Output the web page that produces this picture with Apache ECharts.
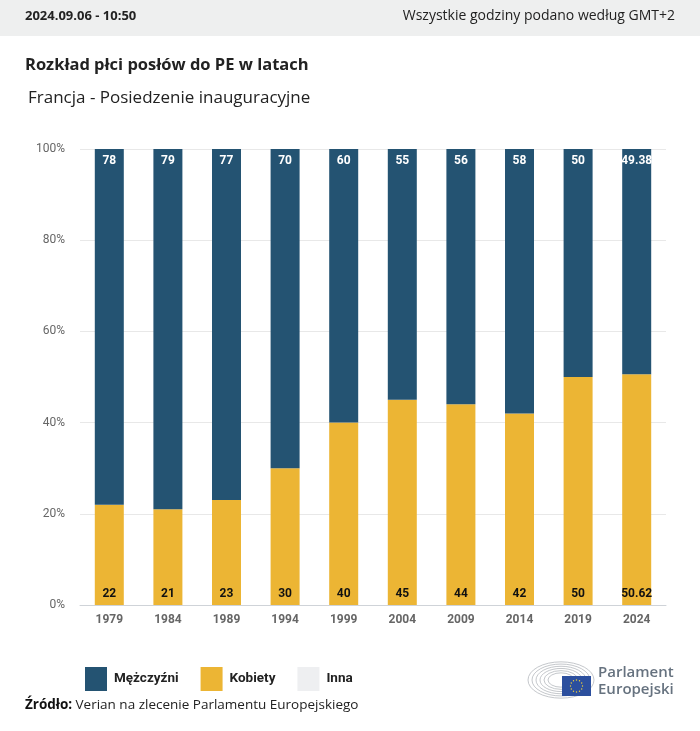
<!DOCTYPE html>
<html><head><meta charset="utf-8">
<script src="https://cdn.jsdelivr.net/npm/echarts@6/dist/echarts.min.js"></script>
<style>html,body{margin:0;padding:0;background:#fff}#c{width:700px;height:731px}</style>
</head><body><div id="c"></div>
<script>
const years = ['1979','1984','1989','1994','1999','2004','2009','2014','2019','2024'];
const men = [78,79,77,70,60,55,56,58,50,49.38];
const women = [22,21,23,30,40,45,44,42,50,50.62];
const other = [0,0,0,0,0,0,0,0,0,0];

const FONT = 'Roboto, "Open Sans", sans-serif';
const TFONT = '"Open Sans", Roboto, sans-serif';
const chart = echarts.init(document.getElementById('c'));

// EP logo hemicycle rings
const rings = [];
for (let i = 0; i < 6; i++) {
  rings.push({type:'circle', shape:{cx:0, cy:0, r:13+i*4}, style:{stroke:'#b3b7bc', lineWidth:1, fill:null}});
}
const stars = [];
for (let i = 0; i < 12; i++) {
  const a = i * Math.PI / 6;
  stars.push({type:'circle', shape:{cx:576.5+6*Math.cos(a), cy:686+6*Math.sin(a), r:0.7}, style:{fill:'#f2d13a'}});
}

chart.setOption({
  animation:false,
  textStyle:{fontFamily:FONT},
  grid:{left:80, right:34, top:149, bottom:126},
  legend:{
    data:['Mężczyźni','Kobiety','Inna'],
    left:80, top:662, icon:'rect', itemWidth:22, itemHeight:24, itemGap:22,
    textStyle:{fontSize:13.5, fontWeight:'bold', color:'#222', fontFamily:FONT, padding:[0,0,0,2]}
  },
  xAxis:{
    type:'category', data:years,
    axisLine:{lineStyle:{color:'#cfd3d8'}}, axisTick:{show:false},
    axisLabel:{color:'#666', fontSize:12, fontWeight:'bold', margin:9, fontFamily:FONT}
  },
  yAxis:{
    type:'value', min:0, max:100, interval:20,
    axisLabel:{formatter:'{value}%', color:'#666', fontSize:12, margin:15, fontFamily:FONT},
    splitLine:{lineStyle:{color:'#e8e8e8'}},
    axisLine:{show:false}, axisTick:{show:false}
  },
  series:[
    {name:'Kobiety', type:'bar', stack:'s', data:women, barWidth:29,
     itemStyle:{color:'#ecb534'},
     label:{show:true, position:'insideBottom', distance:5, color:'#111', fontWeight:'bold', fontSize:12, fontFamily:FONT}},
    {name:'Mężczyźni', type:'bar', stack:'s', data:men, barWidth:29,
     itemStyle:{color:'#245372'},
     label:{show:true, position:'insideTop', distance:6, color:'#fff', fontWeight:'bold', fontSize:12, fontFamily:FONT}},
    {name:'Inna', type:'bar', stack:'s', data:other, barWidth:29,
     itemStyle:{color:'#eeeff1'}, label:{show:false}}
  ],
  graphic:[
    {type:'rect', shape:{x:0,y:0,width:700,height:36}, style:{fill:'#eeefef'}},
    {type:'text', left:25, top:10, style:{text:'2024.09.06 - 10:50', font:'bold 13px '+TFONT, fill:'#222'}},
    {type:'text', right:25, top:9, style:{text:'Wszystkie godziny podano według GMT+2', font:'14px '+TFONT, fill:'#222'}},
    {type:'text', left:25, top:57, style:{text:'Rozkład płci posłów do PE w latach', font:'bold 16.5px '+TFONT, fill:'#222'}},
    {type:'text', left:28, top:90, style:{text:'Francja - Posiedzenie inauguracyjne', font:'17px '+TFONT, fill:'#222'}},
    {type:'text', left:25, top:698, style:{rich:{b:{font:'bold 13.5px '+TFONT, fill:'#111'}, n:{font:'13.5px '+TFONT, fill:'#222'}}, text:'{b|Źródło:} {n|Verian na zlecenie Parlamentu Europejskiego}'}},
    {type:'group', x:561, y:680, scaleY:0.55, children:rings},
    {type:'rect', shape:{x:562,y:676,width:29,height:20}, style:{fill:'#2c4f9e'}},
    ...stars,
    {type:'text', left:598, top:665, style:{text:'Parlament', font:'600 15px '+TFONT, fill:'#66727f'}},
    {type:'text', left:598, top:682, style:{text:'Europejski', font:'600 15px '+TFONT, fill:'#66727f'}}
  ]
});
</script></body></html>
